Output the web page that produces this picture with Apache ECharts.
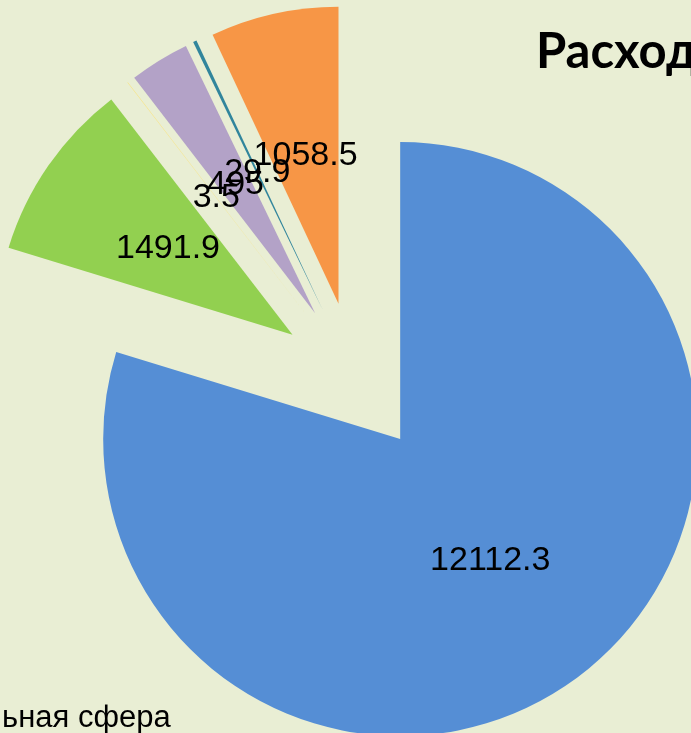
<!DOCTYPE html>
<html>
<head>
<meta charset="utf-8">
<script src="https://cdn.jsdelivr.net/npm/echarts@6/dist/echarts.min.js"></script>
<style>
html,body{margin:0;padding:0;background:#E9EED4;}
#chart{width:691px;height:733px;}
</style>
</head>
<body>
<div id="chart"></div>
<script>
const categories = [
  "Социальная сфера",
  "Национальная экономика",
  "Охрана окружающей среды",
  "Жилищно-коммунальное хозяйство",
  "Национальная безопасность",
  "Общегосударственные вопросы"
];
const values = [12112.3, 1491.9, 3.5, 495, 29.9, 1058.5];
const colors = ["#558ED5", "#92D050", "#FFE066", "#B3A2C7", "#31859C", "#F79646"];
const titleText = "Расходы";

const chart = echarts.init(document.getElementById('chart'), null, {renderer: 'canvas'});
chart.setOption({
  animation: false,
  backgroundColor: '#E9EED4',
  title: {
    text: titleText,
    left: 531,
    top: 23,
    textStyle: {fontFamily: 'Lato, "Open Sans", sans-serif', fontWeight: 'bold', fontSize: 49, color: '#000'}
  },
  legend: {
    orient: 'vertical',
    left: -140,
    top: 698,
    height: 3000,
    itemWidth: 22,
    itemHeight: 22,
    itemGap: 20,
    icon: 'rect',
    selectedMode: false,
    data: categories,
    textStyle: {fontFamily: '"Liberation Sans", Arial, sans-serif', fontSize: 31, color: '#000'}
  },
  series: [{
    type: 'pie',
    center: [355, 378],
    radius: [0, 297],
    startAngle: 90,
    clockwise: true,
    selectedMode: 'multiple',
    selectedOffset: 76,
    avoidLabelOverlap: false,
    emphasis: {disabled: true},
    itemStyle: {borderWidth: 0},
    labelLayout: {hideOverlap: false},
    label: {
      show: true,
      position: 'inside',
      formatter: '{c}',
      fontFamily: '"Liberation Sans", Arial, sans-serif',
      fontSize: 34,
      color: '#000'
    },
    labelLine: {show: false},
    data: categories.map((n, i) => ({name: n, value: values[i], selected: true, itemStyle: {color: colors[i]}}))
  }]
});
</script>
</body>
</html>
